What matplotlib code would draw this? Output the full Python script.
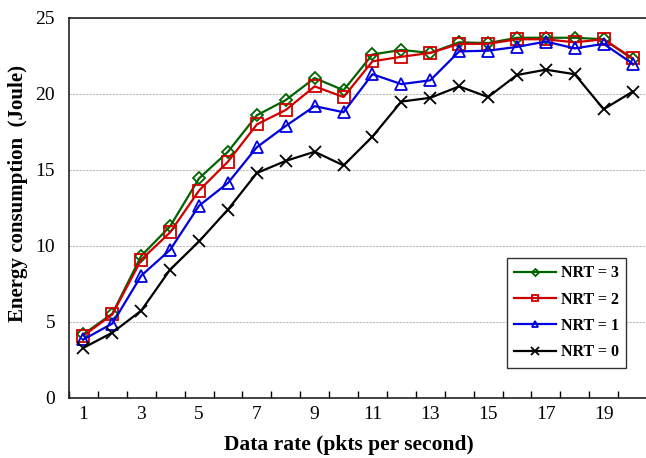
import numpy as np
import matplotlib
matplotlib.use("Agg")
import matplotlib.pyplot as plt

rate = np.arange(1, 21)
nrt3 = [4.2, 5.55, 9.35, 11.3, 14.45, 16.2, 18.6, 19.6, 21.05, 20.25,
        22.6, 22.9, 22.7, 23.4, 23.35, 23.7, 23.7, 23.7, 23.6, 22.3]
nrt2 = [4.1, 5.5, 9.1, 10.9, 13.65, 15.55, 18.0, 18.95, 20.5, 19.8,
        22.15, 22.45, 22.7, 23.3, 23.3, 23.6, 23.6, 23.4, 23.6, 22.35]
nrt1 = [3.85, 4.9, 8.05, 9.75, 12.65, 14.15, 16.5, 17.9, 19.2, 18.8,
        21.3, 20.65, 20.9, 22.8, 22.85, 23.1, 23.45, 23.0, 23.3, 22.0]
nrt0 = [3.3, 4.3, 5.75, 8.45, 10.3, 12.4, 14.8, 15.6, 16.2, 15.3,
        17.2, 19.5, 19.75, 20.5, 19.8, 21.25, 21.6, 21.3, 19.0, 20.15]

series = [
    ("NRT = 3", nrt3, "#006400", "D", 6),
    ("NRT = 2", nrt2, "#d00000", "s", 8),
    ("NRT = 1", nrt1, "#0000e0", "^", 8),
    ("NRT = 0", nrt0, "black", "x", 9),
]

plt.rcParams["font.family"] = ["Liberation Serif", "DejaVu Serif"]

fig = plt.figure(figsize=(6.46, 4.58), dpi=100)
ax = fig.add_axes([69 / 646, 60 / 458, 578 / 646, 380 / 458])

for label, vals, col, mk, ms in series:
    ax.plot(rate, vals, color=col, marker=mk, markersize=ms, lw=1.6,
            markerfacecolor="none", markeredgecolor=col, markeredgewidth=1.3,
            label=label)

ax.set_xlim(0.5, 20.5)
ax.set_ylim(0, 25)
ax.set_yticks(np.arange(0, 26, 5))
ax.set_xticks(np.arange(1, 21, 2))
ax.set_xticks(np.arange(0.5, 21, 1), minor=True)
ax.tick_params(axis="x", which="major", length=0, labelsize=14, pad=6)
ax.tick_params(axis="x", which="minor", direction="in", length=5, width=1)
ax.tick_params(axis="y", length=0, labelsize=14, pad=10)
ax.yaxis.grid(True, color="#bbbbbb", linestyle=(0, (2, 1)), lw=0.8)
ax.set_axisbelow(True)

for s in ["left", "bottom", "top"]:
    ax.spines[s].set_linewidth(1.2)
    ax.spines[s].set_color("#222222")
ax.spines["right"].set_visible(False)

ax.set_xlabel("Data rate (pkts per second)", fontsize=15.5, fontweight="bold")
ax.set_ylabel("Energy consumption  (Joule)", fontsize=15, fontweight="bold")
ax.xaxis.set_label_coords(0.484, -0.098)
ax.yaxis.set_label_coords(-0.071, 0.537)

leg = ax.legend(loc="upper left", bbox_to_anchor=(438 / 578, 140 / 380),
                borderaxespad=0, fancybox=False, edgecolor="#333333", framealpha=1,
                markerscale=0.6, handlelength=2.6, handletextpad=0.3,
                labelspacing=0.65, borderpad=0.45,
                prop={"weight": "bold", "size": 11.5})
leg.get_frame().set_linewidth(1.0)

fig.savefig("out.png", dpi=100)
